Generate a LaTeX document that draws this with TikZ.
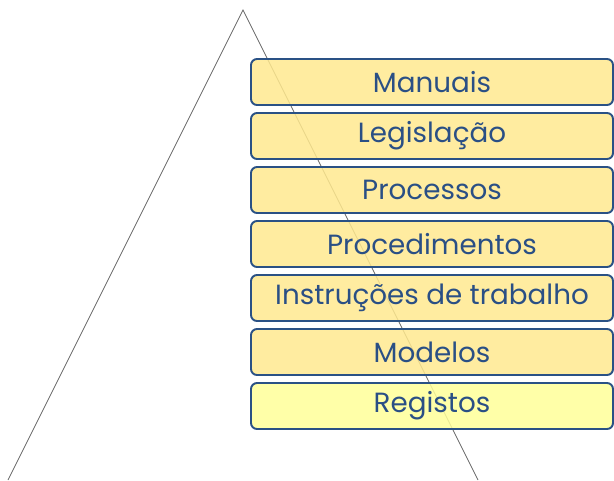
\documentclass[tikz,border=0pt]{standalone}
\usepackage{fontspec}
\setmainfont{Poppins}
\definecolor{boxline}{HTML}{2A5185}
\definecolor{boxfill}{HTML}{FFE98F}
\definecolor{lastfill}{HTML}{FFFF99}
\definecolor{boxtext}{HTML}{2A4F85}

\begin{document}
\begin{tikzpicture}[
    level/.style = {rectangle,
          draw = boxline,
          line width = 1.1pt,
          rounded corners = 0.12cm,
          fill = boxfill,
          fill opacity = 0.85,
          text opacity = 1,
          text = boxtext,
          minimum width = 7.24cm,
          minimum height = 0.92cm,
          font = \fontsize{15.8}{18}\selectfont}
    ]

    \useasboundingbox (0,0) rectangle (12.28,9.6);

    % pyramid outline
    \coordinate (top) at (4.86,9.4);
    \coordinate (left) at (0.16,0);
    \coordinate (right) at (9.56,0);
    \draw[gray!80!black, line width = 0.5pt] (left) -- (top) -- (right);

    \node[level] (manuais) at (8.64,7.96) {Manuais};
    \node[level] (legis) at (8.64,6.88) {Legislação};
    \node[level] (proc) at (8.64,5.80) {Processos};
    \node[level] (proced) at (8.64,4.72) {Procedimentos};
    \node[level] (instr) at (8.64,3.64) {Instruções de trabalho};
    \node[level] (modelos) at (8.64,2.56) {Modelos};
    \node[level, fill = lastfill] (registos) at (8.64,1.48) {Registos};

\end{tikzpicture}
\end{document}
